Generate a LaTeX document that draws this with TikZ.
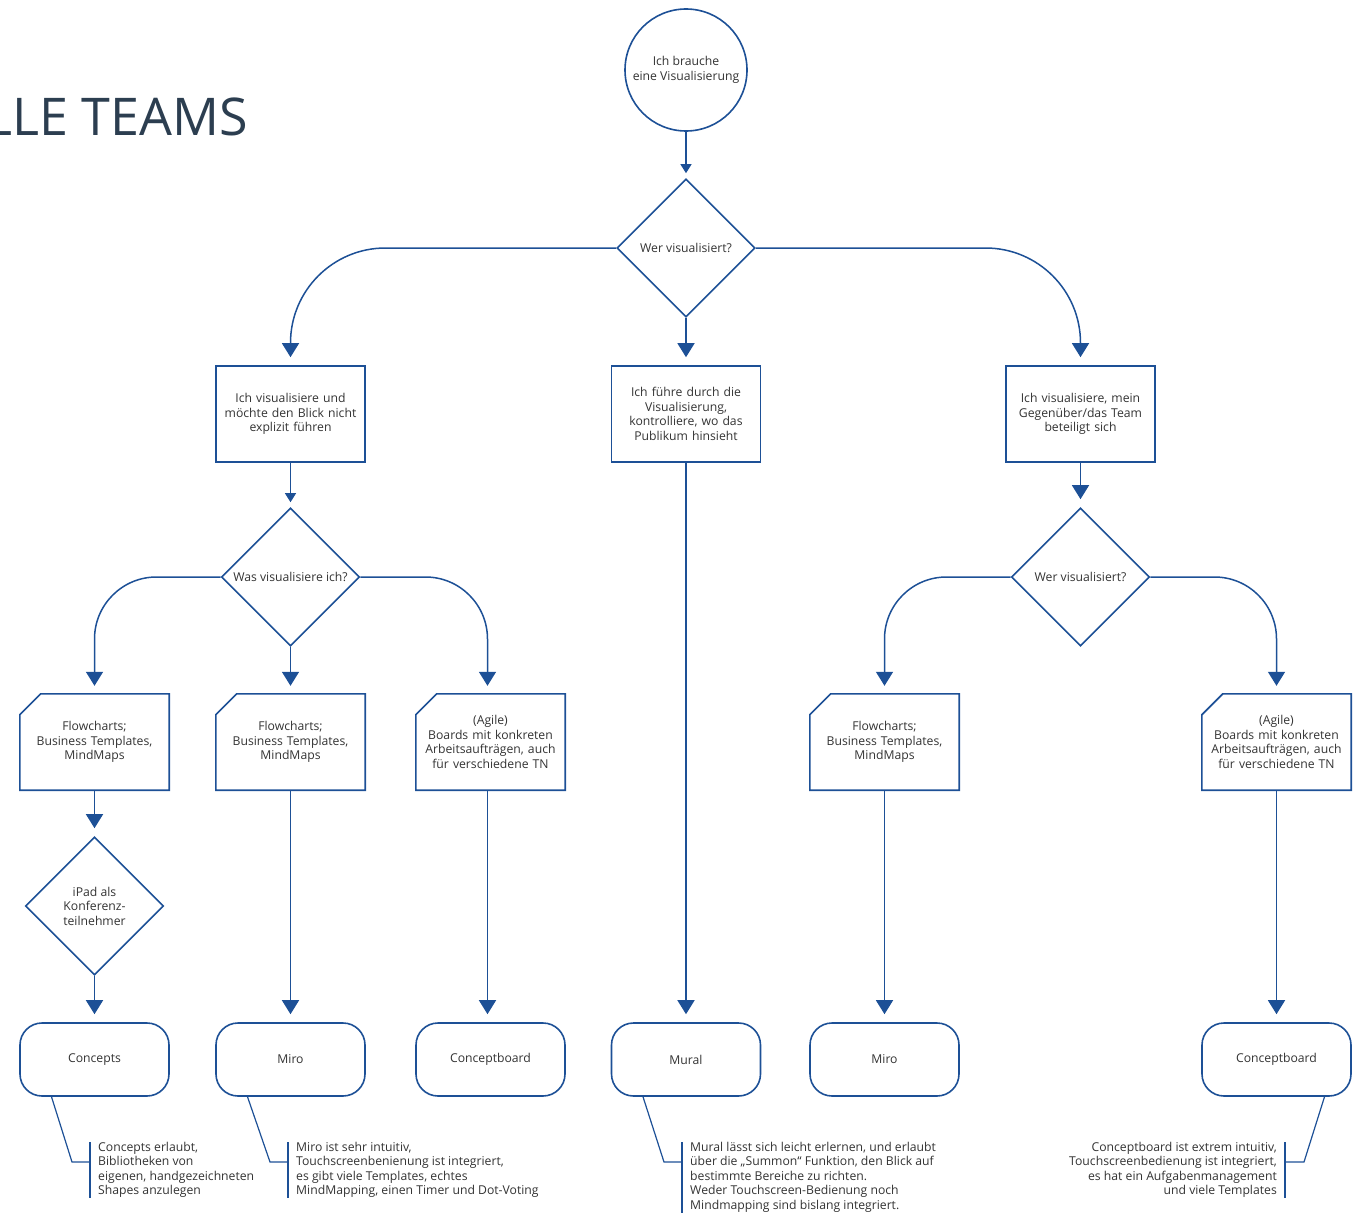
\documentclass[tikz,border=0pt]{standalone}
\usepackage{fontspec}
\setmainfont{Open Sans}
\usetikzlibrary{shapes.geometric,arrows.meta,calc}
\definecolor{flow}{HTML}{1D5096}
\definecolor{txt}{HTML}{333333}
\definecolor{head}{HTML}{2C3E50}
\tikzset{
  every node/.style={font=\fontsize{12.2}{14.5}\selectfont,text=txt},
  startnode/.style={circle,draw=flow,line width=1.6pt,minimum size=122pt,inner sep=0pt,align=center},
  ask/.style={diamond,draw=flow,line width=1.6pt,minimum width=138pt,minimum height=138pt,inner sep=0pt,align=center},
  step box/.style={rectangle,draw=flow,line width=1.6pt,minimum width=149pt,minimum height=96pt,text width=142pt,align=center,inner sep=0pt},
  topic/.style={rectangle,minimum width=149pt,minimum height=96pt,text width=142pt,align=center,inner sep=0pt},
  tool/.style={rectangle,rounded corners=22pt,draw=flow,line width=1.6pt,minimum width=149pt,minimum height=73pt,align=center},
  note/.style={inner xsep=8pt,inner ysep=0pt},
  arr/.style={draw=flow,line width=1.5pt,-{Triangle[width=17pt,length=14pt]},shorten >=8pt},
  arrs/.style={draw=flow,line width=1.2pt,-{Triangle[width=11pt,length=9pt]},shorten >=5pt},
  line/.style={draw=flow,line width=1.2pt}
}
\begin{document}
\begin{tikzpicture}[x=1pt,y=-1pt]
\useasboundingbox (0,0) rectangle (1355,1215);
\node[anchor=base east,font=\fontsize{52}{58}\selectfont,text=head,inner sep=0pt] (title) at (248,135) {LLE TEAMS};

\node[startnode] (start) at (686,70) {Ich brauche\\eine Visualisierung};
\node[ask] (who) at (686,248) {Wer visualisiert?};
\node[step box] (self) at (290.5,414) {Ich visualisiere und\\möchte den Blick nicht\\explizit führen};
\node[step box] (lead) at (686,414) {Ich führe durch die\\Visualisierung,\\kontrolliere, wo das\\Publikum hinsieht};
\node[step box] (team) at (1080.5,414) {Ich visualisiere, mein\\Gegenüber/das Team\\beteiligt sich};
\node[ask] (what) at (290.5,577) {Was visualisiere ich?};
\node[ask] (who2) at (1080.5,577) {Wer visualisiert?};

\node[topic] (t1) at (94.5,742) {Flowcharts;\\Business Templates,\\MindMaps};
\node[topic] (t2) at (290.5,742) {Flowcharts;\\Business Templates,\\MindMaps};
\node[topic] (t3) at (490.5,742) {(Agile)\\Boards mit konkreten\\Arbeitsaufträgen, auch\\für verschiedene TN};
\node[topic] (t4) at (884.5,742) {Flowcharts;\\Business Templates,\\MindMaps};
\node[topic] (t5) at (1276.5,742) {(Agile)\\Boards mit konkreten\\Arbeitsaufträgen, auch\\für verschiedene TN};
\foreach \t in {t1,t2,t3,t4,t5}
  \draw[flow,line width=1.6pt] ([yshift=-21pt]\t.north west) -- ([xshift=21pt]\t.north west) -- (\t.north east) -- (\t.south east) -- (\t.south west) -- cycle;
\node[ask] (ipad) at (94.5,906) {iPad als\\Konferenz-\\teilnehmer};

\node[tool] (concepts) at (94.5,1059.5) {Concepts};
\node[tool] (miro) at (290.5,1059.5) {Miro};
\node[tool] (cboard) at (490.5,1059.5) {Conceptboard};
\node[tool] (mural) at (686,1059.5) {Mural};
\node[tool] (miro2) at (884.5,1059.5) {Miro};
\node[tool] (cboard2) at (1276.5,1059.5) {Conceptboard};

\draw[arrs] (start) -- (who);
\draw[arr,rounded corners=95pt] (who.west) -| (self.north);
\draw[arr] (who) -- (lead);
\draw[arr,rounded corners=95pt] (who.east) -| (team.north);
\draw[arrs] (self) -- (what);
\draw[arr] (team) -- (who2);
\draw[arr,rounded corners=62pt] (what.west) -| (t1.north);
\draw[arr] (what) -- (t2);
\draw[arr,rounded corners=62pt] (what.east) -| ([xshift=-3pt]t3.north);
\draw[arr,rounded corners=62pt] (who2.west) -| (t4.north);
\draw[arr,rounded corners=62pt] (who2.east) -| (t5.north);
\draw[arr] (t1) -- (ipad);
\draw[arr] (ipad) -- (concepts);
\draw[arr] (t2) -- (miro);
\draw[arr] ([xshift=-3pt]t3.south) -- ([xshift=-3pt]cboard.north);
\draw[arr] (lead) -- (mural);
\draw[arr] (t4) -- (miro2);
\draw[arr] (t5) -- (cboard2);

% notes
\node[note,anchor=north west,align=left] (n1) at (90,1142) {Concepts erlaubt,\\Bibliotheken von\\eigenen, handgezeichneten\\Shapes anzulegen};
\node[note,anchor=north west,align=left] (n2) at (288,1142) {Miro ist sehr intuitiv,\\Touchscreenbenienung ist integriert,\\es gibt viele Templates, echtes\\MindMapping, einen Timer und Dot-Voting};
\node[note,anchor=north west,align=left] (n3) at (682,1142) {Mural lässt sich leicht erlernen, und erlaubt\\über die „Summon“ Funktion, den Blick auf\\bestimmte Bereiche zu richten.\\Weder Touchscreen-Bedienung noch\\Mindmapping sind bislang integriert.};
\node[note,anchor=north east,align=right] (n4) at (1285,1142) {Conceptboard ist extrem intuitiv,\\Touchscreenbedienung ist integriert,\\es hat ein Aufgabenmanagement\\und viele Templates};
\foreach \n in {n1,n2,n3} \draw[line] (\n.north west) -- (\n.south west);
\draw[line] (n4.north east) -- (n4.south east);
\draw[line] ([xshift=-43pt]concepts.south) -- ($(n1.north west)+(-18,20)$) -- ($(n1.north west)+(0,20)$);
\draw[line] ([xshift=-43pt]miro.south) -- ($(n2.north west)+(-18,20)$) -- ($(n2.north west)+(0,20)$);
\draw[line] ([xshift=-43pt]mural.south) -- ($(n3.north west)+(-18,20)$) -- ($(n3.north west)+(0,20)$);
\draw[line] ([xshift=48pt]cboard2.south) -- ($(n4.north east)+(19,20)$) -- ($(n4.north east)+(0,20)$);
\end{tikzpicture}
\end{document}
